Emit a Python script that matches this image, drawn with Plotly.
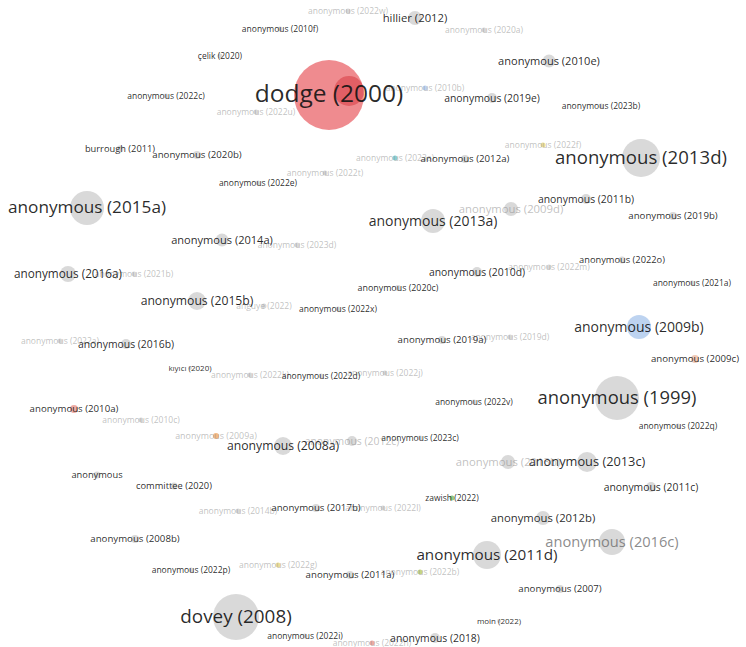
import numpy as np
import plotly.graph_objects as go

# Co-citation map: node labels, map coordinates, node weight and cluster
labels = [
    "dodge (2000)", "", "anonymous (2013d)", "anonymous (2015a)", "anonymous (1999)",
    "dovey (2008)", "anonymous (2011d)", "anonymous (2016c)", "anonymous (2013a)",
    "anonymous (2009b)", "anonymous (2013c)", "anonymous (2008a)", "anonymous (2015b)",
    "anonymous (2016a)", "anonymous (2009d)", "anonymous (2013b)", "hillier (2012)",
    "anonymous (2012b)", "anonymous (2014a)", "anonymous (2010e)", "anonymous (2012c)",
    "anonymous (2019e)", "anonymous (2010d)", "anonymous (2011b)", "anonymous (2016b)",
    "anonymous (2011c)", "anonymous (2018)", "anonymous (2019a)", "anonymous (2007)",
    "anonymous (2010a)", "anonymous (2009c)", "anonymous (2019b)", "anonymous (2012a)",
    "anonymous (2020b)", "anonymous (2017b)", "anonymous (2008b)", "anonymous (2011a)",
    "burrough (2011)", "committee (2020)", "anonymous", "anonymous (2020c)",
    "anonymous (2022o)", "anonymous (2021a)", "anonymous (2023b)", "anonymous (2022q)",
    "anonymous (2022v)", "anonymous (2023c)", "anonymous (2010f)", "çelik (2020)",
    "anonymous (2022c)", "anonymous (2022e)", "anonymous (2022x)", "kıyıcı (2020)",
    "anonymous (2022d)", "zawish (2022)", "anonymous (2022p)", "anonymous (2022i)",
    "moin (2022)", "anonymous (2022w)", "anonymous (2020a)", "anonymous (2010b)",
    "anonymous (2022u)", "anonymous (2023a)", "anonymous (2022f)", "anonymous (2022t)",
    "anonymous (2023d)", "anonymous (2021b)", "anonymous (2022m)", "anguye (2022)",
    "anonymous (2019d)", "anonymous (2022a)", "anonymous (2022k)", "anonymous (2022j)",
    "anonymous (2010c)", "anonymous (2009a)", "anonymous (2014b)", "anonymous (2022l)",
    "anonymous (2022g)", "anonymous (2022b)", "anonymous (2022h)",
]
map_x = [
    329, 349, 641, 87, 617, 236, 487, 612, 433, 639, 587, 283, 197, 68, 511, 508, 415,
    543, 222, 549, 352, 492, 477, 586, 126, 651, 435, 442, 560, 74, 695, 673, 465, 197,
    316, 135, 350, 120, 174, 97, 398, 622, 692, 601, 678, 474, 420, 280, 220, 166, 258,
    338, 190, 321, 452, 191, 305, 499, 348, 484, 425, 256, 395, 543, 325, 297, 134, 549,
    264, 510, 60, 250, 385, 141, 216, 238, 383, 278, 420, 372,
]
map_y = [
    95, 91, 158, 208, 398, 617, 555, 542, 221, 327, 462, 446, 301, 274, 209, 462, 18,
    518, 240, 61, 441, 98, 272, 199, 344, 487, 638, 340, 589, 409, 359, 216, 159, 155,
    508, 539, 575, 149, 486, 475, 288, 260, 283, 106, 426, 402, 438, 29, 56, 96, 183,
    309, 368, 376, 498, 570, 636, 621, 11, 30, 88, 112, 158, 145, 173, 245, 274, 267,
    306, 337, 341, 375, 373, 420, 436, 511, 508, 565, 572, 643,
]
weight = [
    35, 15, 19, 17, 22, 23, 14, 13, 12, 12, 10, 9, 9, 8, 7, 7, 7, 7, 6.5, 6.5, 5, 5, 5,
    5, 5, 5, 5, 4, 4, 4, 4, 4, 4, 4, 4, 4, 4, 3.5, 3.5, 3.5, 3, 3.5, 2.5, 2.5, 2.5, 2.5,
    2.5, 2.5, 2.5, 2.5, 2.5, 2.5, 2, 2.5, 2.5, 2.5, 2.5, 2, 2.5, 2.5, 2.5, 2.5, 2.5,
    2.5, 2.5, 2.5, 2.5, 2.5, 2.5, 2.5, 2.5, 2.5, 2.5, 2.5, 3, 2.5, 2.5, 2.5, 2.5, 2.5,
]
cluster = [
    1, 10, 0, 0, 0, 0, 0, 0, 0, 2, 0, 0, 0, 0, 0, 0, 0, 0, 0, 0, 0, 0, 0, 0, 0, 0, 0, 0,
    0, 3, 4, 0, 0, 0, 0, 0, 0, 0, 0, 0, 0, 0, 0, 0, 0, 0, 0, 0, 0, 0, 0, 0, 0, 0, 5, 0,
    0, 0, 0, 0, 2, 0, 6, 7, 0, 0, 0, 0, 0, 0, 0, 0, 0, 0, 8, 0, 0, 7, 9, 3,
]
faded_nodes = {
    "anonymous (2009d)", "anonymous (2013b)", "anonymous (2012c)", "anonymous (2022w)",
    "anonymous (2020a)", "anonymous (2010b)", "anonymous (2022u)", "anonymous (2023a)",
    "anonymous (2022f)", "anonymous (2022t)", "anonymous (2023d)", "anonymous (2021b)",
    "anonymous (2022m)", "anguye (2022)", "anonymous (2019d)", "anonymous (2022a)",
    "anonymous (2022k)", "anonymous (2022j)", "anonymous (2010c)", "anonymous (2009a)",
    "anonymous (2014b)", "anonymous (2022l)", "anonymous (2022g)", "anonymous (2022b)",
    "anonymous (2022h)",
}
soft_nodes = {"anonymous (2016c)"}

cluster_colors = {
    0: "rgba(192,192,192,0.85)", 1: "rgb(232,90,96)", 2: "rgba(150,185,232,0.9)",
    3: "rgba(226,120,110,0.9)", 4: "rgba(232,170,140,0.9)", 5: "rgba(96,176,72,0.95)",
    6: "rgba(80,184,190,0.95)", 7: "rgba(226,206,100,0.95)", 8: "rgba(238,150,70,0.95)",
    9: "rgba(170,192,70,0.95)", 10: "rgba(212,48,58,0.7)",
}

w = np.array(weight, dtype=float)
diam = 2 * w
# label size grows with node weight
label_px = np.interp(w, [2, 2.5, 3.5, 5, 7, 9, 12, 17, 19, 22, 35],
                     [8.0, 8.5, 9.3, 10.4, 11.3, 12.2, 14.0, 17.2, 18.6, 18.4, 24.5])
node_col = [cluster_colors[c] for c in cluster]

fig = go.Figure()
fig.add_trace(go.Scatter(
    x=map_x, y=map_y, mode="markers", hoverinfo="skip",
    marker=dict(size=diam, sizemode="diameter", color=node_col, line=dict(width=0)),
))

def label_trace(idx, color):
    return go.Scatter(
        x=[map_x[i] for i in idx], y=[map_y[i] + 1 for i in idx],
        text=[labels[i] for i in idx], mode="text", textposition="middle center",
        hoverinfo="skip",
        textfont=dict(family="Open Sans", size=[float(label_px[i]) for i in idx], color=color),
    )

faded_idx = [i for i, t in enumerate(labels) if t in faded_nodes]
soft_idx = [i for i, t in enumerate(labels) if t in soft_nodes]
main_idx = [i for i, t in enumerate(labels) if t and t not in faded_nodes and t not in soft_nodes]
fig.add_trace(label_trace(faded_idx, "rgba(140,140,140,0.55)"))
fig.add_trace(label_trace(soft_idx, "rgba(110,110,110,0.8)"))
fig.add_trace(label_trace(main_idx, "rgba(20,20,20,0.92)"))

fig.update_layout(
    width=746, height=647, margin=dict(l=0, r=0, t=0, b=0),
    paper_bgcolor="white", plot_bgcolor="white", showlegend=False,
    xaxis=dict(range=[0, 746], visible=False, fixedrange=True),
    yaxis=dict(range=[647, 0], visible=False, fixedrange=True),
)
fig.write_html("out.html")
